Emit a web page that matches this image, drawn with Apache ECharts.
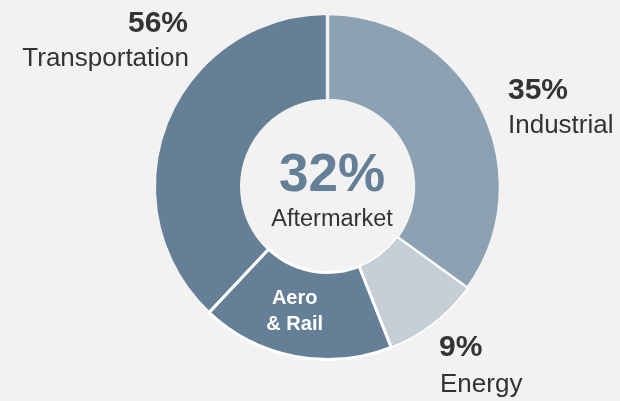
<!DOCTYPE html>
<html>
<head>
<meta charset="utf-8">
<script src="https://cdn.jsdelivr.net/npm/echarts@6/dist/echarts.min.js"></script>
<style>
html,body{margin:0;padding:0;background:#f2f2f2;}
#c{width:620px;height:401px;}
</style>
</head>
<body>
<div id="c"></div>
<script>
// Slice data (order: drawn clockwise starting at lower-left boundary)
const categories = ['Transportation', 'Industrial', 'Energy', 'Aero & Rail'];
const values = [38, 35, 9, 18];
const colors = ['#647f96', '#8ca1b1', '#c7cfd6', '#647f96'];
// Segment summary labels
const segmentNames = ['Transportation', 'Industrial', 'Energy'];
const segmentPercents = [56, 35, 9];
const innerLabel = 'Aero\n& Rail';
const centerPercent = 32;
const centerName = 'Aftermarket';

const total = values.reduce((a, b) => a + b, 0);
const startAngle = 90 + 360 * values[0] / total;

const borders = [
  { borderColor: '#f2f2f2', borderWidth: 3 },
  { borderColor: '#f2f2f2', borderWidth: 3.5 },
  { borderColor: '#ffffff', borderWidth: 1.5 },
  { borderColor: '#ffffff', borderWidth: 3 }
];

const chart = echarts.init(document.getElementById('c'), null, { renderer: 'canvas' });
const font = 'Liberation Sans, Arial, sans-serif';
const dark = '#333333';

chart.setOption({
  backgroundColor: '#f2f2f2',
  animation: false,
  series: [{
    type: 'pie',
    center: [327.5, 186.5],
    radius: [86, 173],
    startAngle: startAngle,
    clockwise: true,
    label: { show: false },
    labelLine: { show: false },
    emphasis: { disabled: true },
    labelLayout: { dx: -8, dy: -5 },
    data: categories.map((c, i) => ({
      name: c,
      value: values[i],
      itemStyle: Object.assign({ color: colors[i] }, borders[i]),
      label: i === 3 ? {
        show: true, position: 'inside', formatter: innerLabel,
        color: '#ffffff', fontWeight: 'bold', fontSize: 20, lineHeight: 26,
        fontFamily: font
      } : { show: false }
    }))
  }],
  graphic: [
    { type: 'text', x: 188, y: 24, style: { text: segmentPercents[0] + '%', font: 'bold 30px ' + font, fill: dark, textAlign: 'right', textVerticalAlign: 'middle' } },
    { type: 'text', x: 189, y: 59, style: { text: segmentNames[0], font: '26px ' + font, fill: dark, textAlign: 'right', textVerticalAlign: 'middle' } },
    { type: 'text', x: 508, y: 91, style: { text: segmentPercents[1] + '%', font: 'bold 30px ' + font, fill: dark, textAlign: 'left', textVerticalAlign: 'middle' } },
    { type: 'text', x: 508, y: 126, style: { text: segmentNames[1], font: '26px ' + font, fill: dark, textAlign: 'left', textVerticalAlign: 'middle' } },
    { type: 'text', x: 439, y: 348, style: { text: segmentPercents[2] + '%', font: 'bold 30px ' + font, fill: dark, textAlign: 'left', textVerticalAlign: 'middle' } },
    { type: 'text', x: 440, y: 385, style: { text: segmentNames[2], font: '26px ' + font, fill: dark, textAlign: 'left', textVerticalAlign: 'middle' } },
    { type: 'text', x: 332, y: 176, style: { text: centerPercent + '%', font: 'bold 53px ' + font, fill: '#647f96', textAlign: 'center', textVerticalAlign: 'middle' } },
    { type: 'text', x: 332, y: 220, style: { text: centerName, font: '23.5px ' + font, fill: dark, textAlign: 'center', textVerticalAlign: 'middle' } }
  ]
});
</script>
</body>
</html>
